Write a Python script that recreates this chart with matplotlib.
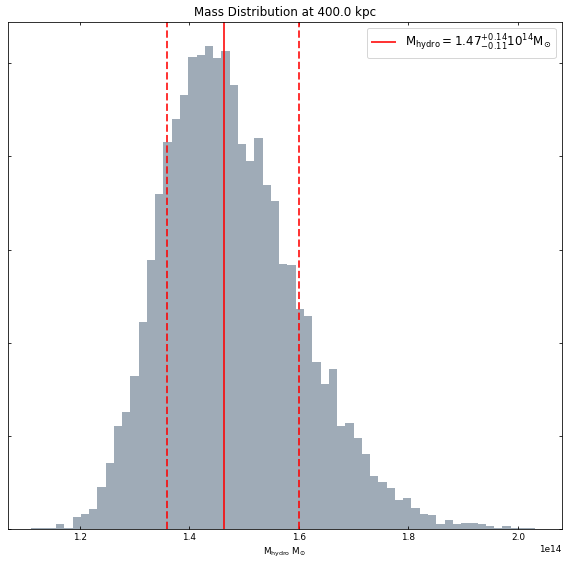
import numpy as np
import matplotlib.pyplot as plt

# histograma (61 bins, unidades de 1e14 Msun)
m_min, m_max = 1.111, 2.032
cuentas = [1, 1, 1, 6, 2, 13, 16, 22, 45, 71,
           111, 126, 165, 222, 289, 360, 415, 440, 466, 506,
           509, 518, 505, 513, 477, 413, 395, 420, 369, 352,
           285, 284, 236, 229, 179, 156, 172, 111, 114, 98,
           81, 57, 51, 44, 32, 34, 23, 16, 15, 6,
           10, 6, 7, 7, 6, 4, 2, 4, 2, 1, 1]
m_med = 1.464
m_lo = 1.359
m_hi = 1.601

bordes = np.linspace(m_min, m_max, len(cuentas) + 1) * 1e14
centros = 0.5 * (bordes[:-1] + bordes[1:])

fig = plt.figure(figsize=(8, 8), dpi=71)
ax = fig.add_subplot(111)
fig.subplots_adjust(left=0.014, right=0.989, bottom=0.068, top=0.961)

ax.hist(centros, bins=bordes, weights=cuentas, color="lightslategray", alpha=0.7)
ax.axvline(m_med * 1e14, color="red", alpha=0.8, lw=2,
           label=r"$\rm M_{hydro} = 1.47^{+0.14}_{-0.11} 10^{14} M_{\odot}$")
ax.axvline(m_lo * 1e14, color="red", alpha=0.8, lw=2, ls="--")
ax.axvline(m_hi * 1e14, color="red", alpha=0.8, lw=2, ls="--")

ax.set_xlim(1.0685e14, 2.080e14)
ax.tick_params(direction="in", top=True, right=True, labelsize=9)
ax.set_yticklabels([])
ax.xaxis.get_offset_text().set_fontsize(9)
ax.set_xlabel(r"$\rm M_{hydro}\ M_{\odot}$", fontsize=9)
ax.set_title("Mass Distribution at 400.0 kpc", fontsize=12)
ax.legend(loc="upper right", fontsize=12)

plt.savefig("out.png", dpi=71)
